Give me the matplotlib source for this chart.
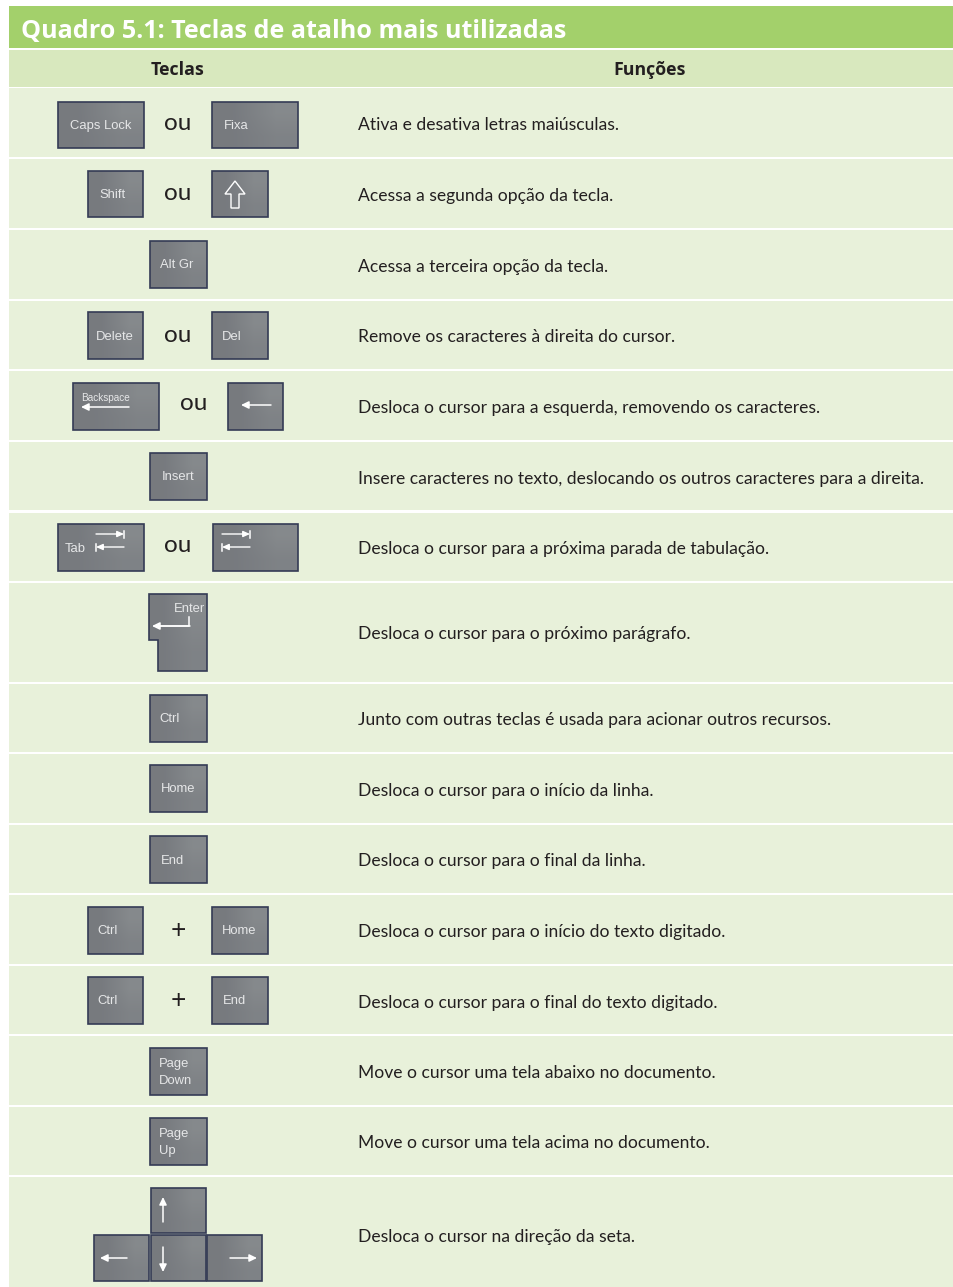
# -*- coding: utf-8 -*-
import matplotlib
matplotlib.use('Agg')
import matplotlib.pyplot as plt
from matplotlib.patches import Rectangle, Polygon
import numpy as np

titulo = 'Quadro 5.1: Teclas de atalho mais utilizadas'
cabecalho = ['Teclas', 'Funções']
funcoes = ['Ativa e desativa letras maiúsculas.',
           'Acessa a segunda opção da tecla.',
           'Acessa a terceira opção da tecla.',
           'Remove os caracteres à direita do cursor.',
           'Desloca o cursor para a esquerda, removendo os caracteres.',
           'Insere caracteres no texto, deslocando os outros caracteres para a direita.',
           'Desloca o cursor para a próxima parada de tabulação.',
           'Desloca o cursor para o próximo parágrafo.',
           'Junto com outras teclas é usada para acionar outros recursos.',
           'Desloca o cursor para o início da linha.',
           'Desloca o cursor para o final da linha.',
           'Desloca o cursor para o início do texto digitado.',
           'Desloca o cursor para o final do texto digitado.',
           'Move o cursor uma tela abaixo no documento.',
           'Move o cursor uma tela acima no documento.',
           'Desloca o cursor na direção da seta.']
linhas_topo = [88, 159, 230, 301, 371, 442, 513, 583, 684, 754, 825, 895, 966, 1036, 1107, 1177]
linhas_base = [157, 228, 299, 369, 440, 510, 581, 682, 752, 823, 893, 964, 1034, 1105, 1175, 1287]
texto_y = [125, 196, 267, 337, 408, 479, 549, 634, 720, 791, 861, 932, 1003, 1073, 1143, 1237]

# x0, x1, y0, y1, rotulo, x do rotulo
teclas = [(58, 144, 102, 148, 'Caps Lock', 70), (212, 298, 102, 148, 'Fixa', 224),
          (88, 143, 171, 217, 'Shift', 99), (212, 268, 171, 217, '', 0),
          (150, 207, 241, 288, 'Alt Gr', 160),
          (88, 143, 312, 359, 'Delete', 96), (212, 268, 312, 359, 'Del', 222),
          (73, 159, 383, 430, '', 0), (228, 283, 383, 430, '', 0),
          (150, 207, 453, 500, 'Insert', 162),
          (58, 144, 524, 571, 'Tab', 65), (213, 298, 524, 571, '', 0),
          (150, 207, 695, 742, 'Ctrl', 159),
          (150, 207, 765, 812, 'Home', 161),
          (150, 207, 836, 883, 'End', 161),
          (88, 143, 907, 954, 'Ctrl', 97), (212, 268, 907, 954, 'Home', 222),
          (88, 143, 977, 1024, 'Ctrl', 97), (212, 268, 977, 1024, 'End', 223),
          (150, 207, 1048, 1095, 'Page\nDown', 159),
          (150, 207, 1118, 1165, 'Page\nUp', 159),
          (151, 206, 1188, 1233, '', 0),
          (94, 149, 1235, 1281, '', 0), (151, 206, 1235, 1281, '', 0), (207, 262, 1235, 1281, '', 0)]
enter_x = [149, 207, 207, 158, 158, 149]
enter_y = [594, 594, 671, 671, 640, 640]

# x, y, texto
conectores = [(178, 124, 'ou'), (178, 193, 'ou'), (178, 335, 'ou'), (194, 404, 'ou'), (178, 546, 'ou'),
              (178, 930, '+'), (178, 1000, '+')]
# x0, y0, x1, y1 das setas
setas = [(129, 407, 81, 407), (271, 405, 241, 405),
         (163, 1222, 163, 1197), (163, 1247, 163, 1272), (127, 1258, 100, 1258), (230, 1258, 257, 1258),
         (190, 626, 152, 626)]
# x0, x1, y das setas de tab (direita, esquerda)
tabs = [(96, 124, 534, 547), (222, 250, 534, 547)]

VERDE = '#a3d06b'
CLARO = '#d8e8be'
FUNDO = '#e8f1da'

fig = plt.figure(figsize=(9.54, 12.87), dpi=100)
ax = fig.add_axes([0, 0, 1, 1])
ax.set_xlim(0, 954)
ax.set_ylim(1287, 0)
ax.axis('off')

ax.add_patch(Rectangle((9, 6), 945, 42, fc=VERDE, ec='none'))
ax.add_patch(Rectangle((9, 50), 945, 37, fc=CLARO, ec='none'))
ax.text(21, 31, titulo, color='white', fontsize=18.1, fontweight='bold', family='Open Sans', va='center')
ax.text(178, 70, cabecalho[0], color='#231f20', fontsize=12.8, fontweight='bold', family='Open Sans',
        ha='center', va='center')
ax.text(650, 70, cabecalho[1], color='#231f20', fontsize=12.8, fontweight='bold', family='Open Sans',
        ha='center', va='center')

for topo, base, txt, y in zip(linhas_topo, linhas_base, funcoes, texto_y):
    ax.add_patch(Rectangle((9, topo), 945, base - topo, fc=FUNDO, ec='none'))
    ax.text(358, y, txt, color='#231f20', fontsize=12.6, family='Lato', va='center')

grad = np.array([[0.1, 0.75], [0.1, 0.45]])
cmap = matplotlib.colors.LinearSegmentedColormap.from_list('tecla', ['#75787d', '#8b8f91'])


def tecla(xs, ys):
    # corpo da tecla com gradiente diagonal, recortado pelo contorno
    im = ax.imshow(grad, extent=(min(xs), max(xs), max(ys), min(ys)), cmap=cmap, vmin=0, vmax=1,
                   aspect='auto', interpolation='bilinear', zorder=3)
    p = Polygon(list(zip(xs, ys)), closed=True, fc='none', ec='#343b55', lw=1.2, zorder=4)
    ax.add_patch(p)
    im.set_clip_path(p)


for x0, x1, y0, y1, rot, xr in teclas:
    tecla([x0, x1, x1, x0], [y0, y0, y1, y1])
    if rot:
        ym = (y0 + y1) / 2.0 + 1
        ax.text(xr, ym, rot, color='#e6e7e8', fontsize=9.4, family='Liberation Sans', va='center',
                ha='left', linespacing=1.5, zorder=5)
tecla(enter_x, enter_y)
ax.text(205, 609, 'Enter', color='#e6e7e8', fontsize=9.4, family='Liberation Sans', va='center', ha='right', zorder=5)
ax.plot([189, 189, 160], [617, 626, 626], color='white', lw=1.1, zorder=5)
ax.text(81, 398, 'Backspace', color='#e6e7e8', fontsize=7.2, family='Liberation Sans', va='center', zorder=5)

for x, y, txt in conectores:
    ax.text(x, y, txt, color='#231f20', fontsize=17.5 if txt == 'ou' else 19, family='Lato',
            ha='center', va='center')

for x0, y0, x1, y1 in setas:
    ax.annotate('', xy=(x1, y1), xytext=(x0, y0), zorder=6,
                arrowprops=dict(arrowstyle='-|>,head_width=0.22,head_length=0.45', color='white', lw=1.1,
                                shrinkA=0, shrinkB=0))

for x0, x1, y0, y1 in tabs:
    ax.annotate('', xy=(x1, y0), xytext=(x0, y0), zorder=6,
                arrowprops=dict(arrowstyle='-|>,head_width=0.18,head_length=0.4', color='white', lw=1, shrinkA=0, shrinkB=0))
    ax.plot([x1, x1], [y0 - 3.5, y0 + 3.5], color='white', lw=1.1, zorder=6)
    ax.annotate('', xy=(x0, y1), xytext=(x1, y1), zorder=6,
                arrowprops=dict(arrowstyle='-|>,head_width=0.18,head_length=0.4', color='white', lw=1, shrinkA=0, shrinkB=0))
    ax.plot([x0, x0], [y1 - 3.5, y1 + 3.5], color='white', lw=1.1, zorder=6)

# seta vazada da tecla shift
shift_x = [235, 245, 239, 239, 231, 231, 225]
shift_y = [181, 194, 194, 208, 208, 194, 194]
ax.add_patch(Polygon(list(zip(shift_x, shift_y)), closed=True, fc='none', ec='white', lw=1, zorder=6))

fig.savefig('out.png', dpi=100)
